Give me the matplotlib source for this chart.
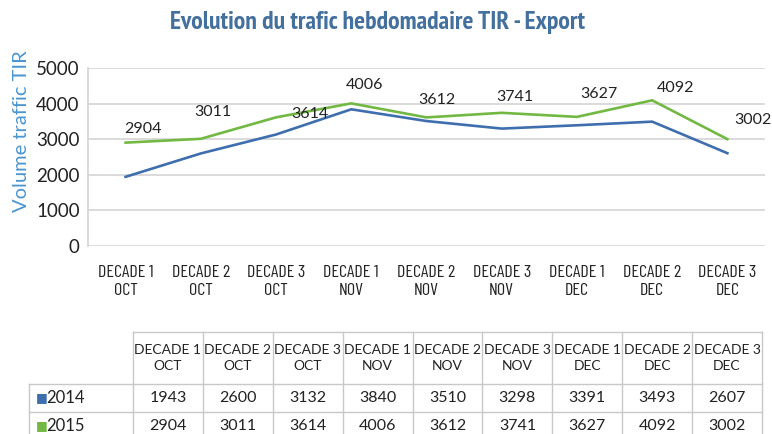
import numpy as np
import matplotlib
matplotlib.use("Agg")
import matplotlib.pyplot as plt

categories = ["DECADE 1\nOCT", "DECADE 2\nOCT", "DECADE 3\nOCT",
              "DECADE 1\nNOV", "DECADE 2\nNOV", "DECADE 3\nNOV",
              "DECADE 1\nDEC", "DECADE 2\nDEC", "DECADE 3\nDEC"]
years = ["2014", "2015"]
v2014 = [1943, 2600, 3132, 3840, 3510, 3298, 3391, 3493, 2607]
v2015 = [2904, 3011, 3614, 4006, 3612, 3741, 3627, 4092, 3002]
yticks = [0, 1000, 2000, 3000, 4000, 5000]

# decalage des etiquettes (pixels) comme dans l'original
label_dx = [17, 12, 34, 13, 10, 13, 22, 23, 26]
label_dy = [14, 27, 3, 18, 17, 16, 23, 12, 19]

narrow = ["PT Sans Narrow", "Roboto Condensed", "Barlow Condensed", "DejaVu Sans"]
tick_font = ["Barlow Condensed", "Roboto Condensed", "DejaVu Sans"]
plt.rcParams['font.family'] = ["Lato", "Open Sans", "DejaVu Sans"]

blue = "#3f6eaf"
green = "#72b843"
grid = "#d4d4d4"
txt = "#222222"

fig = plt.figure(figsize=(7.72, 4.34), dpi=100)
W, H = 772, 434

ax = fig.add_axes([88 / W, 1 - 246 / H, 677 / W, 178 / H])
x = np.arange(len(categories))
ax.plot(x, v2014, color=blue, lw=1.9, solid_joinstyle="round")
ax.plot(x, v2015, color=green, lw=1.9, solid_joinstyle="round")
for i, v in enumerate(v2015):
    ax.annotate(str(v), (x[i], v), xytext=(label_dx[i] * 0.72, label_dy[i] * 0.72),
                textcoords="offset points", ha="center", va="center",
                fontsize=11.5, color=txt)

ax.set_xlim(-0.5, len(categories) - 0.5)
ax.set_ylim(0, 5000)
ax.set_yticks(yticks)
ax.set_yticklabels([str(t) for t in yticks], fontsize=13.5, color=txt)
ax.set_xticks(x)
ax.set_xticklabels(categories, fontsize=13, family=tick_font, fontweight="normal",
                   color=txt, linespacing=1.25)
ax.tick_params(length=0, pad=6)
ax.tick_params(axis="x", pad=14)
ax.grid(axis="y", color=grid, lw=1.2)
ax.set_axisbelow(True)
for s in ["top", "right", "bottom"]:
    ax.spines[s].set_visible(False)
ax.spines["left"].set_color(grid)
ax.spines["left"].set_linewidth(1.2)
ax.set_ylabel("Volume traffic TIR", fontsize=14.5, color="#4a95d0")
ax.yaxis.set_label_coords(-0.085, 0.646)

fig.text(378 / W, 1 - 22 / H, "Evolution du trafic hebdomadaire TIR - Export",
         ha="center", va="center", fontsize=18.5, fontweight="bold",
         family=narrow, color="#44709e")

# tableau de donnees
tab = fig.add_axes([29 / W, 1 - 440 / H, (762 - 29) / W, 108 / H])
lab_w = 104 / 69.9
tab.set_xlim(-lab_w, len(categories))
tab.set_ylim(108, 0)
tab.axis("off")
rows_y = [0, 52, 80, 108]
bc = "#c8c8c8"
tab.plot([0, len(categories)], [0, 0], color=bc, lw=1, clip_on=False)
for yy in rows_y[1:]:
    tab.plot([-lab_w, len(categories)], [yy, yy], color=bc, lw=1, clip_on=False)
tab.plot([-lab_w, -lab_w], [52, 108], color=bc, lw=1, clip_on=False)
for c in range(len(categories) + 1):
    tab.plot([c, c], [0, 108], color=bc, lw=1, clip_on=False)
for c, cat in enumerate(categories):
    tab.text(c + 0.5, 26, cat, ha="center", va="center", fontsize=10,
             color=txt, linespacing=1.35)
    tab.text(c + 0.5, 66, str(v2014[c]), ha="center", va="center", fontsize=11.5, color=txt)
    tab.text(c + 0.5, 94, str(v2015[c]), ha="center", va="center", fontsize=11.5, color=txt)
for r, (yr, col) in enumerate(zip(years, [blue, green])):
    yy = 66 + 28 * r
    tab.text(-lab_w + 0.1, yy, "\u25a0", ha="left", va="center", fontsize=9,
             color=col, family="DejaVu Sans")
    tab.text(-lab_w + 0.25, yy, yr, ha="left", va="center", fontsize=12, color=txt)

fig.savefig("out.png", dpi=100)
